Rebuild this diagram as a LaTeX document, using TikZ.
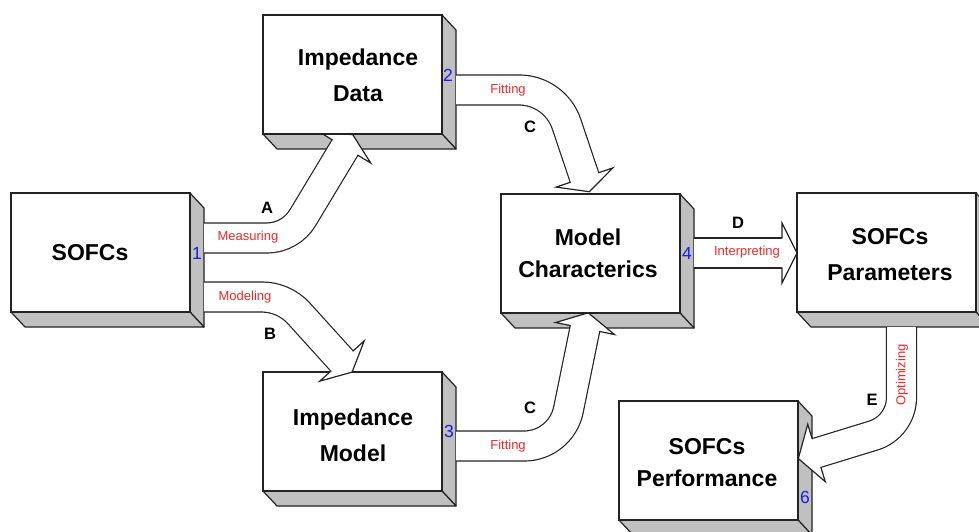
\documentclass[tikz,border=0pt]{standalone}
\usepackage{fontspec}
\setmainfont{Liberation Sans}
\usetikzlibrary{calc}
\definecolor{lc}{RGB}{35,35,35}
\definecolor{depthgray}{RGB}{192,192,192}
\definecolor{lblred}{RGB}{240,40,40}
\definecolor{numblue}{RGB}{25,25,240}
\pgfdeclarelayer{depthlayer}
\pgfdeclarelayer{arrowlayer}
\pgfsetlayers{depthlayer,arrowlayer,main}

% gray right and bottom faces of a raised box
\newcommand\depthfaces[1]{%
  \filldraw[depth] (#1.north east) -- ++(14,15) -- ($(#1.south east)+(14,15)$) -- (#1.south east) -- cycle;
  \filldraw[depth] (#1.south west) -- ++(14,15) -- ($(#1.south east)+(14,15)$) -- (#1.south east) -- cycle;}
% outlined wide band following a path
\newcommand\bandalong[1]{%
  \draw[line width=31.2pt, draw=lc] #1;
  \draw[line width=28.8pt, draw=white] #1;}
% head of a block arrow: base midpoint, direction, length
\newcommand\bandhead[3]{%
  \begin{scope}[shift={#1}, rotate=#2]
    \fill[white] (-1.5,-14.4) -- (0,-14.4) -- (0,-30) -- (#3,0) -- (0,30) -- (0,14.4) -- (-1.5,14.4) -- cycle;
    \draw[line width=1.2pt, draw=lc] (0,-14.4) -- (0,-30) -- (#3,0) -- (0,30) -- (0,14.4);
  \end{scope}}

\begin{document}
\begin{tikzpicture}[x=1pt,y=-1pt,
  front/.style={draw=lc, fill=white, line width=1.2pt, minimum width=179pt,
    minimum height=119pt, inner sep=0pt, outer sep=0pt, anchor=north west},
  depth/.style={draw=lc, fill=depthgray, line width=1.2pt, line join=round},
  boxtext/.style={font=\fontsize{23}{28}\selectfont\bfseries, align=center},
  steplabel/.style={font=\fontsize{16.5}{18}\selectfont\bfseries, text=black},
  actlabel/.style={font=\fontsize{13}{15}\selectfont, text=lblred},
  numlabel/.style={font=\fontsize{17.5}{20}\selectfont, text=numblue},
]
\useasboundingbox (0,0) rectangle (979,532);

% front faces
\node[front] (b1) at (11,193) {};
\node[front] (b2) at (263,15) {};
\node[front] (b3) at (263,372) {};
\node[front] (b4) at (501,194) {};
\node[front] (b5) at (797,193) {};
\node[front] (b6) at (619,401) {};

\begin{pgfonlayer}{depthlayer}
  \fill[white] (0,0) rectangle (979,532);
  \foreach \b in {b1,b2,b3,b4,b5,b6} {\depthfaces{\b}}
\end{pgfonlayer}

% arrow end points on the box sides
\coordinate (a0) at ($(b1.north east)+(14,45)$);
\coordinate (b0) at ($(b1.north east)+(14,104)$);
\coordinate (c0) at ($(b2.north east)+(14,75)$);
\coordinate (c1) at ($(b3.north east)+(14,74)$);
\coordinate (d0) at ($(b4.north east)+(14,59)$);
\coordinate (e0) at ($(b5.south west)+(104.5,15)$);

\begin{pgfonlayer}{arrowlayer}
  % A: measuring
  \bandalong{(a0) -- (266.7,238) .. controls (281.5,238) and (295.2,230.3) .. (302.8,217.6) -- (345,147.5)}
  \bandhead{(345,147.5)}{58.9}{15}
  % B: modeling (its head lies over the box, drawn below)
  \bandalong{(b0) -- (261.8,297) .. controls (275.9,297) and (289.4,303) .. (298.9,313.4) -- (342,361)}
  % C: fitting the data
  \bandalong{(c0) -- (519.1,90) .. controls (540.5,90) and (559.6,103.7) .. (566.5,124) -- (584.5,177.5)}
  \bandhead{(584.5,177.5)}{-71.3}{15}
  % C: fitting the model
  \bandalong{(c1) -- (524.2,446) .. controls (545.6,446) and (564.1,430.9) .. (568.4,409.9) -- (585,328.5)}
  \bandhead{(585,328.5)}{78.5}{16}
  % D: interpreting
  \bandalong{(d0) -- (782,253)}
  \bandhead{(782,253)}{0}{15}
  % E: optimizing
  \bandalong{(e0) -- (901.5,397.4) .. controls (901.5,415) and (890,430.5) .. (873.2,435.6) -- (816.5,453)}
  \bandhead{(816.5,453)}{197}{19}
\end{pgfonlayer}

\bandhead{(342,361)}{-47.8}{15}

% box titles
\node[boxtext] (t1) at (90,253) {SOFCs};
\node[boxtext] (t2) at (358,75) {Impedance\\[8pt]Data};
\node[boxtext] (t3) at (353,435) {Impedance\\[8pt]Model};
\node[boxtext] (t4) at (588,253) {Model\\[4pt]Characterics};
\node[boxtext] (t5) at (890,255) {SOFCs\\[8pt]Parameters};
\node[boxtext] (t6) at (707,463) {SOFCs\\[4pt]Performance};

% box numbers
\node[numlabel] (n1) at (197,253) {1};
\node[numlabel] (n2) at (448,75) {2};
\node[numlabel] (n3) at (449,431) {3};
\node[numlabel] (n4) at (687,253) {4};
\node[numlabel] (n5) at (984,253) {5};
\node[numlabel] (n6) at (805,497) {6};

% step letters
\node[steplabel] (lA) at (267,208) {A};
\node[steplabel] (lB) at (270,334) {B};
\node[steplabel] (lC1) at (530,127) {C};
\node[steplabel] (lC2) at (530,408) {C};
\node[steplabel] (lD) at (738,223) {D};
\node[steplabel] (lE) at (872,400) {E};

% actions
\node[actlabel] (m1) at (248,237) {Measuring};
\node[actlabel] (m2) at (245,297) {Modeling};
\node[actlabel] (m3) at (508,90) {Fitting};
\node[actlabel] (m4) at (508,446) {Fitting};
\node[actlabel] (m5) at (747,252) {Interpreting};
\node[actlabel, rotate=90] (m6) at (902,375) {Optimizing};
\end{tikzpicture}
\end{document}
